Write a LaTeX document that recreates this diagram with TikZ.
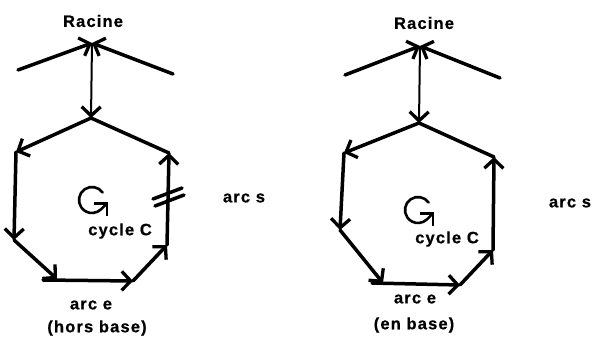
\documentclass[tikz,border=0pt]{standalone}
\usepackage{fontspec}
\setmainfont{Liberation Sans}[LetterSpace=7,BoldFeatures={FakeBold=0.6}]
\usetikzlibrary{arrows.meta}
\begin{document}
\begin{tikzpicture}[x=1pt,y=-1pt,
  heavy/.style={line width=3.5pt, line cap=round},
  thin/.style={line width=2pt},
  tip/.style={-{Straight Barb[length=9pt,width=19pt,line width=3.3pt]}},
  rot/.style={line width=2.6pt, line cap=round, -{Straight Barb[length=9pt,width=18pt,line width=2.6pt]}},
  lbl/.style={font=\fontsize{16.5}{19}\selectfont\bfseries, inner sep=0pt}]
\useasboundingbox (0,0) rectangle (592,345);
% ---------- left diagram ----------
\coordinate (aR) at (92,43);
\coordinate (aRL) at (18,70);
\coordinate (aRR) at (173,74);
\coordinate (aT) at (91,118);
\coordinate (aL1) at (16,152);
\coordinate (aL2) at (14,240);
\coordinate (aB0) at (43,280);
\coordinate (aB1) at (57,279);
\coordinate (aB2) at (133,281);
\coordinate (aR2) at (167,245);
\coordinate (aR1) at (169,153);
\coordinate (aS) at (168,197);
\node[lbl] (aRac) at (93,21) {Racine};
\node[lbl] (acyc) at (120,231) {cycle C};
\node[lbl] (aarcs) at (244,198) {arc s};
\node[lbl] (aarce) at (91,305) {arc e};
\node[lbl] (ahb) at (97,328) {(hors base)};
\draw[heavy,tip] (aRL) -- (aR);
\draw[heavy,tip] (aRR) -- (aR);
\draw[thin,tip] (aR) -- (aT);
\draw[heavy,tip] (aT) -- (aL1);
\draw[heavy] (aT) -- (aR1);
\draw[heavy,tip] (aL1) -- (aL2);
\draw[heavy,tip] (aL2) -- (aB1);
\draw[heavy,tip] (aB0) -- (aB2);
\draw[heavy,tip] (aB2) -- (aR2);
\draw[heavy,tip] (aR2) -- (aR1);
\draw[heavy] ([shift={(-15,2)}]aS) -- ([shift={(14,-9)}]aS);
\draw[heavy] ([shift={(-13,9)}]aS) -- ([shift={(16,-2)}]aS);
\coordinate (aG) at (92,200);
\draw[rot] (aG) ++(-35:13) arc[start angle=-35,end angle=-315,radius=13] -- ++(7,-7);
% ---------- right diagram ----------
\coordinate (bR) at (420,46);
\coordinate (bRL) at (345,75);
\coordinate (bRR) at (500,78);
\coordinate (bT) at (419,123);
\coordinate (bL1) at (344,153);
\coordinate (bL2) at (340,230);
\coordinate (bB0) at (372,283);
\coordinate (bB1) at (383,283);
\coordinate (bB2) at (460,285);
\coordinate (bR2) at (493,250);
\coordinate (bR1) at (494,157);
\node[lbl] (bRac) at (424,23) {Racine};
\node[lbl] (bcyc) at (447,239) {cycle C};
\node[lbl] (barcs) at (570,203) {arc s};
\node[lbl] (barce) at (415,299) {arc e};
\node[lbl] (beb) at (414,325) {(en base)};
\draw[heavy,tip] (bRL) -- (bR);
\draw[heavy,tip] (bRR) -- (bR);
\draw[thin,tip] (bR) -- (bT);
\draw[heavy,tip] (bT) -- (bL1);
\draw[heavy] (bT) -- (bR1);
\draw[heavy,tip] (bL1) -- (bL2);
\draw[heavy,tip] (bL2) -- (bB1);
\draw[heavy,tip] (bB0) -- (bB2);
\draw[heavy,tip] (bB2) -- (bR2);
\draw[heavy,tip] (bR2) -- (bR1);
\coordinate (bG) at (418,210);
\draw[rot] (bG) ++(-35:13) arc[start angle=-35,end angle=-315,radius=13] -- ++(7,-7);
\end{tikzpicture}
\end{document}
